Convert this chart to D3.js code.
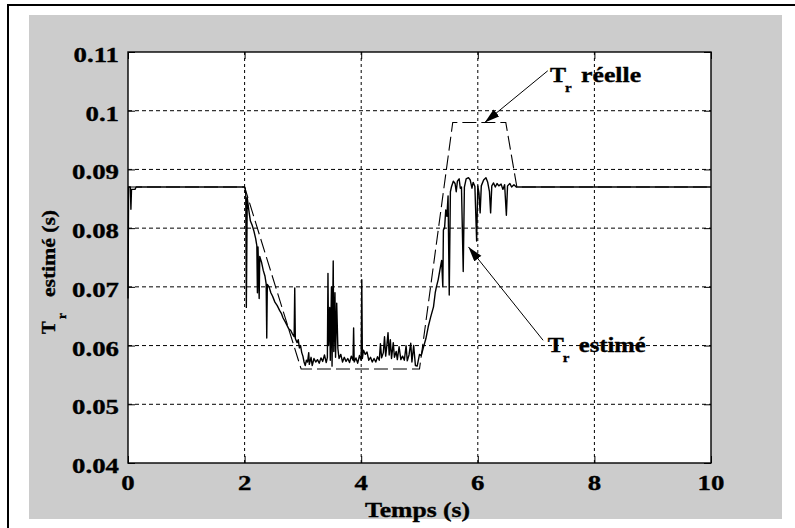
<!DOCTYPE html>
<html>
<head>
<meta charset="utf-8">
<script src="https://cdn.jsdelivr.net/npm/d3@7"></script>
<style>
  body { margin: 0; background: #fff; }
  svg text { font-family: "Liberation Serif", "Times New Roman", serif; font-weight: bold; fill: #000; stroke: #000; stroke-width: 0.35px; }
</style>
</head>
<body>
<svg id="chart" width="795" height="528"></svg>
<script>
// tick values
var xTicks = [0, 2, 4, 6, 8, 10]
var yTicks = [0.04, 0.05, 0.06, 0.07, 0.08, 0.09, 0.1, 0.11]
var yTickLabels = ["0.04", "0.05", "0.06", "0.07", "0.08", "0.09", "0.1", "0.11"]

// real rotor time constant (dashed)
var realTime = [0, 2, 2.97, 5, 5.57, 6.48, 6.67, 10]
var realValue = [0.087, 0.087, 0.056, 0.056, 0.098, 0.098, 0.087, 0.087]

// estimated rotor time constant (solid)
var estTime = [
    0, 0.01, 0.04, 0.05, 0.06, 0.12, 0.14, 2.00,
    2.01, 2.02, 2.03, 2.045, 2.06, 2.08, 2.10, 2.13, 2.16, 2.19, 2.21, 2.22, 2.23, 2.25, 2.26, 2.29,
    2.32, 2.35, 2.37, 2.38, 2.39, 2.42, 2.45, 2.48, 2.52, 2.56, 2.60, 2.63, 2.66, 2.70, 2.73, 2.76,
    2.79, 2.82, 2.85, 2.86, 2.87, 2.90, 2.92, 2.94, 2.96, 2.98,
    3.00, 3.02, 3.04, 3.06, 3.08, 3.10, 3.11, 3.14, 3.16, 3.19, 3.22, 3.25, 3.28, 3.31, 3.34, 3.37,
    3.40, 3.42, 3.43, 3.44, 3.46, 3.47, 3.49, 3.50, 3.52, 3.53, 3.55, 3.56, 3.58, 3.60, 3.62, 3.65,
    3.68, 3.71, 3.74, 3.77, 3.80, 3.83, 3.86, 3.87, 3.88, 3.91, 3.94, 3.97,
    4.00, 4.01, 4.02, 4.04, 4.07, 4.10, 4.13, 4.16, 4.19, 4.22, 4.25, 4.28, 4.31, 4.33, 4.35, 4.38,
    4.40, 4.42, 4.44, 4.46, 4.48, 4.50, 4.52, 4.55, 4.57, 4.60, 4.62, 4.65, 4.68, 4.71, 4.74, 4.77,
    4.79, 4.82, 4.85, 4.87, 4.90, 4.93, 4.96,
    5.00, 5.03, 5.07, 5.11, 5.15, 5.19, 5.24, 5.27, 5.29, 5.32, 5.35, 5.38, 5.40, 5.41, 5.43, 5.45,
    5.47, 5.49, 5.51, 5.53, 5.55, 5.58, 5.61, 5.63, 5.65, 5.68, 5.70, 5.72, 5.75, 5.77, 5.80, 5.84,
    5.87, 5.90, 5.92, 5.95, 5.98,
    6.00, 6.02, 6.04, 6.06, 6.10, 6.14, 6.17, 6.20, 6.22, 6.24, 6.27, 6.30, 6.33, 6.36, 6.40, 6.43,
    6.46, 6.49, 6.51, 6.55, 6.58, 6.62, 6.66, 6.70, 10.0
]
var estValue = [
    0.0680, 0.0870, 0.0870, 0.0832, 0.0866, 0.0866, 0.0870, 0.0870,
    0.0868, 0.0858, 0.0665, 0.0852, 0.0840, 0.0825, 0.0812, 0.0805, 0.0795, 0.0782, 0.0770, 0.0690, 0.0768, 0.0680, 0.0752, 0.0742,
    0.0728, 0.0718, 0.0705, 0.0613, 0.0704, 0.0700, 0.0690, 0.0684, 0.0674, 0.0668, 0.0660, 0.0655, 0.0647, 0.0640, 0.0634, 0.0628,
    0.0626, 0.0620, 0.0615, 0.0698, 0.0612, 0.0605, 0.0610, 0.0596, 0.0600, 0.0588,
    0.0582, 0.0572, 0.0566, 0.0575, 0.0572, 0.0588, 0.0568, 0.0580, 0.0566, 0.0578, 0.0572, 0.0576, 0.0570, 0.0579, 0.0573, 0.0584,
    0.0571, 0.0580, 0.0723, 0.0600, 0.0665, 0.0575, 0.0700, 0.0565, 0.0744, 0.0590, 0.0690, 0.0580, 0.0672, 0.0595, 0.0578, 0.0585,
    0.0572, 0.0580, 0.0573, 0.0578, 0.0571, 0.0582, 0.0575, 0.0630, 0.0572, 0.0579, 0.0570, 0.0583,
    0.0575, 0.0712, 0.0578, 0.0592, 0.0585, 0.0589, 0.0575, 0.0580, 0.0572, 0.0578, 0.0572, 0.0581, 0.0575, 0.0603, 0.0579, 0.0588,
    0.0615, 0.0582, 0.0600, 0.0622, 0.0584, 0.0610, 0.0578, 0.0605, 0.0580, 0.0590, 0.0576, 0.0598, 0.0576, 0.0582, 0.0575, 0.0600,
    0.0574, 0.0584, 0.0604, 0.0572, 0.0600, 0.0566, 0.0565,
    0.0585, 0.0583, 0.0598, 0.0612, 0.0632, 0.0648, 0.0666, 0.0690, 0.0700, 0.0712, 0.0729, 0.0745, 0.0700, 0.0797, 0.0800, 0.0831,
    0.0820, 0.0855, 0.0686, 0.0862, 0.0871, 0.0880, 0.0876, 0.0862, 0.0880, 0.0884, 0.0868, 0.0870, 0.0726, 0.0870, 0.0884, 0.0886,
    0.0882, 0.0868, 0.0878, 0.0871, 0.0778,
    0.0872, 0.0860, 0.0826, 0.0872, 0.0882, 0.0886, 0.0878, 0.0862, 0.0826, 0.0872, 0.0877, 0.0870, 0.0876, 0.0872, 0.0875, 0.0866,
    0.0874, 0.0822, 0.0872, 0.0876, 0.0870, 0.0874, 0.0870, 0.0870, 0.0870
]

// annotation anchors in data units
var notes = [
    { label: "réelle", textAt: [7.24, 0.1049], from: [7.2, 0.1068], tip: [6.12, 0.098], width: 60 },
    { label: "estimé", textAt: [7.2, 0.0589], from: [7.12, 0.0609], tip: [5.84, 0.0768], width: 67 }
]

var svg = d3.select("#chart")
var margin = { left: 128, top: 52 },
    width = 711 - 128,
    height = 463 - 52
var xStretch = 1.22

// page frame and grey figure background
svg.append("rect").attr("x", 8).attr("y", 5).attr("width", 900).attr("height", 600)
    .attr("fill", "#fff").attr("stroke", "#000").attr("stroke-width", 2)
svg.append("rect").attr("x", 29).attr("y", 15).attr("width", 753).attr("height", 504)
    .attr("fill", "#cccccc")

var g = svg.append("g").attr("transform", "translate(" + margin.left + "," + margin.top + ")")

var x = d3.scaleLinear().domain([0, 10]).range([0, width])
var y = d3.scaleLinear().domain([0.04, 0.11]).range([height, 0])

g.append("rect").attr("width", width).attr("height", height).attr("fill", "#fff")

// grid
g.append("g").selectAll("line")
    .data(xTicks.slice(1, -1))
    .enter().append("line")
    .attr("x1", d => x(d)).attr("x2", d => x(d))
    .attr("y1", 0).attr("y2", height)
    .attr("stroke", "#000").attr("stroke-width", 1).attr("stroke-dasharray", "3,3")
g.append("g").selectAll("line")
    .data(yTicks.slice(1, -1))
    .enter().append("line")
    .attr("x1", 0).attr("x2", width)
    .attr("y1", d => y(d)).attr("y2", d => y(d))
    .attr("stroke", "#000").attr("stroke-width", 1).attr("stroke-dasharray", "4,3")

// series
var line = d3.line().x(d => x(d[0])).y(d => y(d[1]))
var realPts = realTime.map((t, i) => [t, realValue[i]])
var estPts = estTime.map((t, i) => [t, estValue[i]])

g.append("path").datum(realPts)
    .attr("d", line).attr("fill", "none")
    .attr("stroke", "#000").attr("stroke-width", 1.1).attr("stroke-dasharray", "14,5")
g.append("path").datum(estPts)
    .attr("d", line).attr("fill", "none")
    .attr("stroke", "#000").attr("stroke-width", 1.4).attr("stroke-linejoin", "round")

// axes, ticks point inward like matlab
g.append("g").attr("transform", "translate(0," + height + ")")
    .call(d3.axisBottom(x).tickValues(xTicks).tickSize(-7).tickFormat(""))
g.append("g").call(d3.axisTop(x).tickValues(xTicks).tickSize(-7).tickFormat(""))
g.append("g").call(d3.axisLeft(y).tickValues(yTicks).tickSize(-7).tickFormat(""))
g.append("g").attr("transform", "translate(" + width + ",0)")
    .call(d3.axisRight(y).tickValues(yTicks).tickSize(-7).tickFormat(""))
g.selectAll(".domain").remove()
g.append("rect").attr("width", width).attr("height", height)
    .attr("fill", "none").attr("stroke", "#000").attr("stroke-width", 1.4)

// tick labels (the picture is stretched horizontally)
g.append("g").selectAll("text")
    .data(xTicks)
    .enter().append("text")
    .attr("transform", d => "translate(" + x(d) + "," + (height + 27) + ") scale(" + xStretch + ",1)")
    .attr("text-anchor", "middle")
    .style("font-size", "22px")
    .text(d => d)
g.append("g").selectAll("text")
    .data(yTicks)
    .enter().append("text")
    .attr("transform", d => "translate(-9," + (y(d) + 10) + ") scale(" + xStretch + ",1)")
    .attr("text-anchor", "end")
    .style("font-size", "22px")
    .text((d, i) => yTickLabels[i])

// x label
g.append("text")
    .attr("x", 365 - margin.left).attr("y", 517 - margin.top)
    .attr("textLength", 105).attr("lengthAdjust", "spacingAndGlyphs")
    .style("font-size", "20px")
    .text("Temps (s)")

// y label, rotated
var yl = svg.append("g").attr("transform", "translate(55,334) rotate(-90)")
yl.append("text").attr("x", 0).attr("y", 0).style("font-size", "19px").text("T")
yl.append("text").attr("x", 15).attr("y", 11).style("font-size", "13px").text("r")
yl.append("text").attr("x", 37).attr("y", 0)
    .attr("textLength", 87).attr("lengthAdjust", "spacingAndGlyphs")
    .style("font-size", "19px").text("estimé (s)")

// annotations with arrows
svg.append("defs").append("marker")
    .attr("id", "head").attr("markerUnits", "userSpaceOnUse")
    .attr("markerWidth", 16).attr("markerHeight", 10)
    .attr("refX", 15).attr("refY", 4.5).attr("orient", "auto")
    .append("path").attr("d", "M0,0 L15,4.5 L0,9 Z").attr("fill", "#000")

notes.forEach(function(n) {
    g.append("line")
        .attr("x1", x(n.from[0])).attr("y1", y(n.from[1]))
        .attr("x2", x(n.tip[0])).attr("y2", y(n.tip[1]))
        .attr("stroke", "#000").attr("stroke-width", 1)
        .attr("marker-end", "url(#head)")
    var tx = x(n.textAt[0]), ty = y(n.textAt[1])
    g.append("text").attr("transform", "translate(" + tx + "," + ty + ") scale(1.15,1)")
        .style("font-size", "21px").text("T")
    g.append("text").attr("transform", "translate(" + (tx + 15) + "," + (ty + 10) + ") scale(1.15,1)")
        .style("font-size", "13px").text("r")
    g.append("text").attr("x", tx + 31).attr("y", ty)
        .attr("textLength", n.width).attr("lengthAdjust", "spacingAndGlyphs")
        .style("font-size", "20px").text(n.label)
})
</script>
</body>
</html>
